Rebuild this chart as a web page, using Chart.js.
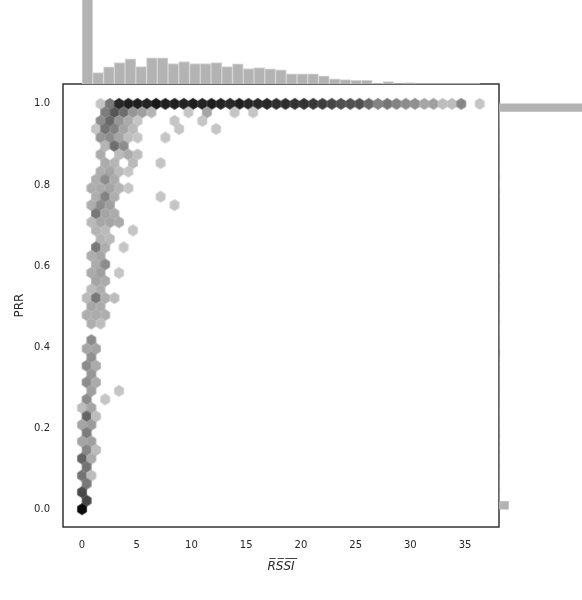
<!DOCTYPE html>
<html><head><meta charset="utf-8">
<script src="https://cdn.jsdelivr.net/npm/chart.js@4.4.1/dist/chart.umd.min.js"></script>
<style>
html,body{margin:0;padding:0;background:#fff;overflow:hidden;width:582px;height:600px;}
canvas{position:absolute;}
</style></head><body>
<canvas id="main" width="582" height="600" style="left:0;top:0"></canvas>
<canvas id="top" width="436" height="89" style="left:63px;top:-5px"></canvas>
<canvas id="right" width="89" height="443" style="left:499px;top:84px"></canvas>
<script>
// ---- axis ticks ----
const xTickValues = [0, 5, 10, 15, 20, 25, 30, 35];
const yTickValues = [0.0, 0.2, 0.4, 0.6, 0.8, 1.0];
const xTitle = 'R\u0305S\u0305S\u0305I\u0305';
const yTitle = 'PRR';

// ---- hexbin data: one PRR level per row, RSSI bin centres and counts ----
const prrRows = [1.000, 0.979, 0.958, 0.938, 0.917, 0.896, 0.875, 0.854, 0.833, 0.813,
  0.792, 0.771, 0.750, 0.729, 0.708, 0.688, 0.667, 0.646, 0.625, 0.604,
  0.583, 0.563, 0.542, 0.521, 0.500, 0.479, 0.458, 0.417, 0.396, 0.375,
  0.354, 0.333, 0.313, 0.292, 0.271, 0.250, 0.229, 0.208, 0.188, 0.167,
  0.146, 0.125, 0.104, 0.083, 0.063, 0.042, 0.021, 0.000];
const rssiByRow = [
  [1.69, 2.54, 3.38, 4.23, 5.07, 5.92, 6.76, 7.61, 8.45, 9.30, 10.14, 10.99, 11.83, 12.68, 13.52, 14.37, 15.21, 16.06, 16.90, 17.75,
   18.59, 19.44, 20.28, 21.13, 21.97, 22.82, 23.66, 24.51, 25.35, 26.20, 27.04, 27.89, 28.73, 29.58, 30.42, 31.27, 32.11, 32.96, 33.80, 34.65, 36.34],
  [2.11, 2.96, 3.80, 4.65, 5.49, 6.34, 9.72, 11.41, 13.94, 15.63],
  [1.69, 2.54, 3.38, 4.23, 5.07, 8.45, 10.99],
  [1.27, 2.11, 2.96, 3.80, 4.65, 8.87, 12.25],
  [1.69, 2.54, 3.38, 4.23, 5.07, 7.61],
  [2.11, 2.96, 3.80],
  [1.69, 3.38, 4.23, 5.07],
  [2.11, 2.96, 4.65, 7.18],
  [1.69, 2.54, 3.38, 4.23],
  [1.27, 2.11, 2.96],
  [0.85, 1.69, 2.54, 3.38, 4.23],
  [1.27, 2.11, 2.96, 7.18],
  [0.85, 1.69, 2.54, 8.45],
  [1.27, 2.11, 2.96],
  [0.85, 1.69, 2.54, 3.38],
  [1.27, 2.11, 4.65],
  [1.69, 2.54],
  [1.27, 2.11, 3.80],
  [0.85, 1.69],
  [1.27, 2.11],
  [0.85, 1.69, 3.38],
  [1.27, 2.11],
  [0.85, 1.69],
  [0.42, 1.27, 2.11, 2.96],
  [0.85, 1.69],
  [0.42, 1.27, 2.11],
  [0.85, 1.69],
  [0.85],
  [0.42, 1.27],
  [0.85],
  [0.42, 1.27],
  [0.85],
  [0.42, 1.27],
  [0.85, 3.38],
  [0.42, 2.11],
  [0.00, 0.85],
  [0.42, 1.27],
  [0.00, 0.85],
  [0.42],
  [0.00, 0.85],
  [0.42, 1.27],
  [0.00, 0.85],
  [0.42],
  [0.00, 0.85],
  [0.42],
  [0.00],
  [0.42],
  [0.00]
];
const countByRow = [
  [1, 42, 84, 89, 89, 87, 92, 89, 89, 87, 89, 87, 89, 87, 84, 89, 84, 84, 84, 81,
   81, 79, 79, 76, 73, 68, 63, 63, 63, 50, 36, 44, 36, 31, 29, 18, 21, 5, 5, 34, 1],
  [39, 60, 47, 26, 21, 10, 1, 18, 1, 1],
  [31, 50, 26, 15, 1, 1, 1],
  [1, 44, 36, 18, 7, 1, 1],
  [26, 31, 18, 5, 1, 1],
  [10, 47, 31],
  [15, 7, 15, 5],
  [15, 10, 7, 1],
  [13, 18, 7, 1],
  [13, 31, 15],
  [13, 15, 18, 10, 1],
  [13, 36, 13, 1],
  [13, 31, 21, 1],
  [42, 18, 15],
  [7, 18, 18, 15],
  [10, 7, 1],
  [10, 7],
  [42, 13, 1],
  [13, 18],
  [15, 31],
  [15, 21, 1],
  [18, 15],
  [7, 13],
  [7, 42, 13, 5],
  [18, 15],
  [13, 15, 13],
  [13, 5],
  [31],
  [18, 18],
  [29],
  [31, 15],
  [26],
  [31, 15],
  [21, 1],
  [31, 1],
  [5, 18],
  [52, 5],
  [18, 23],
  [39],
  [18, 21],
  [34, 5],
  [52, 15],
  [44],
  [44, 5],
  [42],
  [66],
  [68],
  [100]
];

// ---- marginal histograms ----
const rssiHistCounts = [252, 34, 51, 64, 75, 52, 78, 78, 61, 67, 61, 61, 64, 52, 60, 46, 49, 45, 42, 30,
  30, 30, 24, 15, 13, 11, 11, 3, 7, 1, 4, 1, 1, 1, 1, 1, 1];
const rssiHistRange = [0, 36.34];
const prrHistCounts = [111, 3, 2, 3, 2, 1, 2, 2, 2, 1, 2, 2, 3, 2, 2, 1, 2, 2, 2, 2,
  0, 2, 2, 3, 2, 3, 2, 2, 2, 2, 2, 3, 2, 2, 2, 2, 2, 2, 2, 2,
  2, 2, 3, 2, 3, 3, 3, 3, 4, 4, 5, 6, 1000];
const prrHistRange = [0, 1];

// ---- layout / style constants ----
const X_MIN = -1.74, X_MAX = 38.1, Y_MIN = -0.044, Y_MAX = 1.049;
const HEX_DX = 0.845, HEX_DY = 1 / 24;
const TEXT = '#262626';
const BAR = '#b3b3b3';
const FONT = "'DejaVu Sans', sans-serif";

const hexPoints = [];
prrRows.forEach((p, k) => rssiByRow[k].forEach((r, j) => hexPoints.push({x: r, y: p, c: countByRow[k][j]})));
const maxCount = Math.max(...countByRow.flat());
function grayFor(c) {
  const v = Math.round(197 - 187 * (c - 1) / (maxCount - 1));
  return 'rgb(' + v + ',' + v + ',' + v + ')';
}
const hexCache = {};
function hexCanvas(color, chart) {
  const xs = chart.scales.x, ys = chart.scales.y;
  const w = Math.abs(xs.getPixelForValue(HEX_DX) - xs.getPixelForValue(0));
  const h = Math.abs(ys.getPixelForValue(0) - ys.getPixelForValue(HEX_DY / 3));
  const key = color + '|' + w.toFixed(2) + '|' + h.toFixed(2);
  if (hexCache[key]) return hexCache[key];
  const W = 2 * Math.ceil(w / 2 + 2), H = 2 * Math.ceil(h + 2);
  const cv = document.createElement('canvas');
  cv.width = W; cv.height = H;
  const g = cv.getContext('2d');
  const cx = W / 2, cy = H / 2;
  g.beginPath();
  g.moveTo(cx + w / 2, cy - h / 2);
  g.lineTo(cx + w / 2, cy + h / 2);
  g.lineTo(cx, cy + h);
  g.lineTo(cx - w / 2, cy + h / 2);
  g.lineTo(cx - w / 2, cy - h / 2);
  g.lineTo(cx, cy - h);
  g.closePath();
  g.fillStyle = color;
  g.fill();
  g.strokeStyle = color;
  g.lineWidth = 0.5;
  g.stroke();
  hexCache[key] = cv;
  return cv;
}

const framePlugin = {
  id: 'frame',
  afterDraw(chart) {
    const {ctx, chartArea: a} = chart;
    ctx.save();
    ctx.strokeStyle = '#333333';
    ctx.lineWidth = 1.5;
    ctx.strokeRect(a.left, a.top, a.right - a.left, a.bottom - a.top);
    ctx.restore();
  }
};

new Chart(document.getElementById('main'), {
  type: 'scatter',
  data: {
    datasets: [{
      data: hexPoints,
      pointRadius: 5,
      pointStyle: (ctx) => hexCanvas(grayFor(ctx.raw ? ctx.raw.c : 1), ctx.chart)
    }]
  },
  options: {
    responsive: false,
    animation: false,
    events: [],
    layout: {padding: {left: 0, top: 84, right: 83, bottom: 0}},
    plugins: {legend: {display: false}, tooltip: {enabled: false}},
    scales: {
      x: {
        type: 'linear', min: X_MIN, max: X_MAX,
        grid: {display: false, drawTicks: false},
        border: {display: false},
        afterBuildTicks: (s) => { s.ticks = xTickValues.map(v => ({value: v})); },
        afterFit: (s) => { s.height = 73; },
        ticks: {color: TEXT, font: {family: FONT, size: 10}, padding: 12, maxRotation: 0,
                callback: (v) => String(v)},
        title: {display: true, text: xTitle, color: TEXT,
                font: {family: FONT, size: 12, style: 'italic'}, padding: {top: 0, bottom: 26}}
      },
      y: {
        type: 'linear', min: Y_MIN, max: Y_MAX,
        grid: {display: false, drawTicks: false},
        border: {display: false},
        afterBuildTicks: (s) => { s.ticks = yTickValues.map(v => ({value: v})); },
        afterFit: (s) => { s.width = 63; },
        ticks: {color: TEXT, font: {family: FONT, size: 10}, padding: 13,
                callback: (v) => Number(v).toFixed(1)},
        title: {display: true, text: yTitle, color: TEXT,
                font: {family: FONT, size: 12}, padding: {top: 13, bottom: 0}}
      }
    }
  },
  plugins: [framePlugin]
});

// top marginal histogram (RSSI)
const rssiBinW = (rssiHistRange[1] - rssiHistRange[0]) / rssiHistCounts.length;
new Chart(document.getElementById('top'), {
  type: 'bar',
  data: {
    datasets: [{
      data: rssiHistCounts.map((c, k) => ({x: rssiHistRange[0] + (k + 0.5) * rssiBinW, y: c})),
      backgroundColor: BAR, borderColor: '#d4d4d4', borderWidth: 1, borderSkipped: 'bottom',
      barPercentage: 1, categoryPercentage: 1
    }]
  },
  options: {
    responsive: false, animation: false, events: [],
    layout: {padding: 0},
    plugins: {legend: {display: false}, tooltip: {enabled: false}},
    scales: {
      x: {type: 'linear', min: X_MIN, max: X_MAX, offset: false, display: false},
      y: {type: 'linear', min: 0, max: Math.max(...rssiHistCounts) * 1.05, display: false}
    }
  }
});

// right marginal histogram (PRR)
const prrBinW = (prrHistRange[1] - prrHistRange[0]) / prrHistCounts.length;
new Chart(document.getElementById('right'), {
  type: 'bar',
  data: {
    datasets: [{
      data: prrHistCounts.map((c, k) => ({y: prrHistRange[0] + (k + 0.5) * prrBinW, x: c})),
      backgroundColor: BAR, borderWidth: 0,
      barPercentage: 1, categoryPercentage: 1
    }]
  },
  options: {
    indexAxis: 'y',
    responsive: false, animation: false, events: [],
    layout: {padding: 0},
    plugins: {legend: {display: false}, tooltip: {enabled: false}},
    scales: {
      y: {type: 'linear', min: Y_MIN, max: Y_MAX, offset: false, display: false},
      x: {type: 'linear', min: 0, max: Math.max(...prrHistCounts) * 1.05, display: false}
    }
  }
});
</script>
</body></html>
